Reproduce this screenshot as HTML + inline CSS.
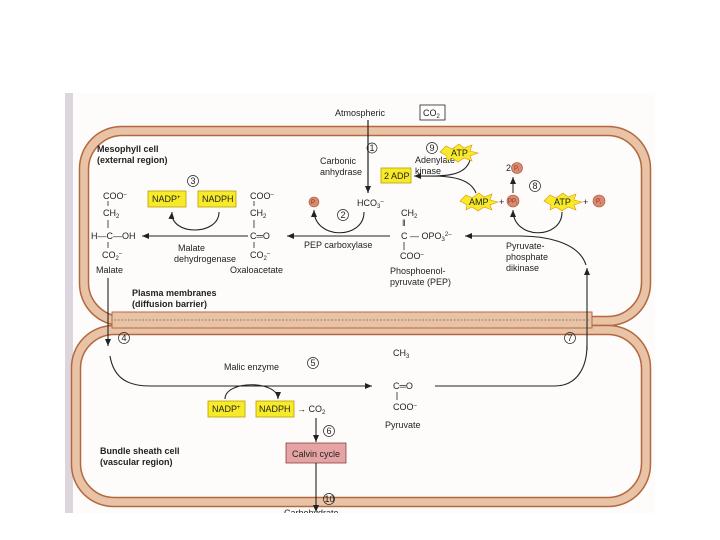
<!DOCTYPE html>
<html><head><meta charset="utf-8"><style>
body{margin:0;background:#fff}
svg{display:block}
text{font-family:"Liberation Sans",sans-serif;font-size:9px;fill:#222}
.b{font-weight:bold}
.p{font-size:6px;fill:#8a3020}
</style></head><body>
<svg width="720" height="540" viewBox="0 0 720 540" xmlns="http://www.w3.org/2000/svg">
<defs>
<marker id="a" markerWidth="8" markerHeight="8" refX="7" refY="4" orient="auto" markerUnits="userSpaceOnUse"><path d="M0,1 L7,4 L0,7 Z" fill="#222"/></marker>
</defs>
<rect x="65" y="93" width="590" height="420" fill="#fdfcfb"/>
<rect x="65" y="93" width="8" height="420" fill="#ddd5dd"/>
<rect x="84" y="131" width="562" height="190" rx="38" fill="none" stroke="#e9c3a6" stroke-width="9"/>
<rect x="79.5" y="126.5" width="571" height="199" rx="42" fill="none" stroke="#b4683f" stroke-width="1.5"/>
<rect x="88.5" y="135.5" width="553" height="181" rx="34" fill="none" stroke="#b4683f" stroke-width="1.5"/>
<rect x="76" y="330" width="570" height="172" rx="38" fill="none" stroke="#e9c3a6" stroke-width="9"/>
<rect x="71.5" y="325.5" width="579" height="181" rx="42" fill="none" stroke="#b4683f" stroke-width="1.5"/>
<rect x="80.5" y="334.5" width="561" height="163" rx="34" fill="none" stroke="#b4683f" stroke-width="1.5"/>
<rect x="112" y="312" width="480" height="16" fill="#e9c3a6" stroke="#b4683f" stroke-width="1"/>
<line x1="114" y1="320" x2="590" y2="320" stroke="#9a7a6a" stroke-width="1" stroke-dasharray="2,1.5"/>

<text x="335" y="116">Atmospheric</text>
<rect x="420" y="105" width="25" height="15" fill="#fff" stroke="#222" stroke-width="0.8"/>
<text x="423" y="116">CO<tspan font-size="6" dy="2">2</tspan></text>
<line x1="368" y1="120" x2="368" y2="193" stroke="#222" stroke-width="1.2" marker-end="url(#a)"/>
<circle cx="372" cy="148" r="5" fill="none" stroke="#222" stroke-width="0.7"/><text x="369.5" y="151" font-size="7">1</text>
<text x="320" y="164">Carbonic</text><text x="320" y="175">anhydrase</text>

<text class="b" x="97" y="152">Mesophyll cell</text>
<text class="b" x="97" y="163">(external region)</text>
<circle cx="193" cy="181" r="5.5" fill="none" stroke="#222" stroke-width="0.7"/><text x="190.5" y="184" font-size="7">3</text>

<text x="103" y="199">COO<tspan font-size="6" dy="-3">–</tspan></text>
<line x1="108" y1="201" x2="108" y2="206" stroke="#222" stroke-width="0.8"/>
<text x="103" y="216">CH<tspan font-size="6" dy="2">2</tspan></text>
<line x1="108" y1="220" x2="108" y2="228" stroke="#222" stroke-width="0.8"/>
<text x="91" y="239">H—C—OH</text>
<line x1="108" y1="242" x2="108" y2="248" stroke="#222" stroke-width="0.8"/>
<text x="102" y="258">CO<tspan font-size="6" dy="2">2</tspan><tspan font-size="6" dy="-5">–</tspan></text>
<text x="96" y="273">Malate</text>

<rect x="148" y="191" width="38" height="16" fill="#f7ea28" stroke="#b8a000" stroke-width="0.8"/><text x="152" y="202">NADP<tspan font-size="6" dy="-3">+</tspan></text>
<rect x="198" y="191" width="38" height="16" fill="#f7ea28" stroke="#b8a000" stroke-width="0.8"/><text x="202" y="202">NADPH</text>
<path d="M219,212 C219,236 170,236 172,212" fill="none" stroke="#222" stroke-width="1.1" marker-end="url(#a)"/>
<line x1="248" y1="236" x2="142" y2="236" stroke="#222" stroke-width="1.1" marker-end="url(#a)"/>
<text x="178" y="251">Malate</text><text x="174" y="262">dehydrogenase</text>

<text x="250" y="199">COO<tspan font-size="6" dy="-3">–</tspan></text>
<line x1="254" y1="201" x2="254" y2="206" stroke="#222" stroke-width="0.8"/>
<text x="250" y="216">CH<tspan font-size="6" dy="2">2</tspan></text>
<line x1="254" y1="220" x2="254" y2="228" stroke="#222" stroke-width="0.8"/>
<text x="250" y="239">C═O</text>
<line x1="254" y1="242" x2="254" y2="248" stroke="#222" stroke-width="0.8"/>
<text x="250" y="258">CO<tspan font-size="6" dy="2">2</tspan><tspan font-size="6" dy="-5">–</tspan></text>
<text x="230" y="273">Oxaloacetate</text>

<line x1="390" y1="236" x2="287" y2="236" stroke="#222" stroke-width="1.1" marker-end="url(#a)"/>
<circle cx="314" cy="202" r="5" fill="#d98a6e" stroke="#a5503a" stroke-width="0.6"/><text class="p" x="311" y="204">P</text>
<path d="M364,212 C364,240 314,240 314,210" fill="none" stroke="#222" stroke-width="1.1" marker-end="url(#a)"/>
<circle cx="343" cy="215" r="5.5" fill="none" stroke="#222" stroke-width="0.7"/><text x="340.5" y="218" font-size="7">2</text>
<text x="357" y="206">HCO<tspan font-size="6" dy="2">3</tspan><tspan font-size="6" dy="-5">–</tspan></text>
<text x="304" y="248">PEP carboxylase</text>

<text x="401" y="216">CH<tspan font-size="6" dy="2">2</tspan></text>
<text x="402" y="226" font-size="8">‖</text>
<text x="401" y="239">C — OPO<tspan font-size="6" dy="2">3</tspan><tspan font-size="6" dy="-5">2–</tspan></text>
<line x1="404" y1="242" x2="404" y2="250" stroke="#222" stroke-width="0.8"/>
<text x="400" y="259">COO<tspan font-size="6" dy="-3">–</tspan></text>
<text x="390" y="274">Phosphoenol-</text><text x="390" y="285">pyruvate (PEP)</text>

<circle cx="432" cy="148" r="5.5" fill="none" stroke="#222" stroke-width="0.7"/><text x="429.5" y="151" font-size="7">9</text>
<text x="415" y="163">Adenylate</text><text x="415" y="174">kinase</text>
<rect x="381" y="168" width="30" height="15" fill="#f7ea28" stroke="#b8a000" stroke-width="0.8"/><text x="384" y="179">2 ADP</text>
<path d="M470,160 C465,178 440,176 414,176" fill="none" stroke="#222" stroke-width="1.1" marker-end="url(#a)"/>
<path d="M476,193 C470,178 450,176 430,176" fill="none" stroke="#222" stroke-width="1.1"/>
<polygon points="440,152 446,146 452,149 459,144 464,148 472,145 470,151 478,153 470,156 472,161 464,158 458,162 452,158 446,161 447,156" fill="#f7ea28" stroke="#e09010" stroke-width="0.6"/>
<text x="451" y="156">ATP</text>
<polygon points="460,201 466,195 472,198 479,193 484,197 492,194 490,200 498,202 490,205 492,210 484,207 478,211 472,207 466,210 467,205" fill="#f7ea28" stroke="#e09010" stroke-width="0.6"/>
<text x="469" y="205">AMP</text>
<polygon points="544,201 550,195 556,198 563,193 568,197 576,194 574,200 582,202 574,205 576,210 568,207 562,211 556,207 550,210 551,205" fill="#f7ea28" stroke="#e09010" stroke-width="0.6"/>
<text x="554" y="205">ATP</text>
<text x="499" y="205">+</text>
<circle cx="513" cy="201" r="6" fill="#d98a6e" stroke="#a5503a" stroke-width="0.6"/><text class="p" x="508" y="203">PP<tspan font-size="4" dy="1">i</tspan></text>
<text x="583" y="205">+</text>
<circle cx="599" cy="201" r="6" fill="#d98a6e" stroke="#a5503a" stroke-width="0.6"/><text class="p" x="596" y="203">P<tspan font-size="4" dy="1">i</tspan></text>
<text x="506" y="171">2</text><circle cx="517" cy="168" r="5.5" fill="#d98a6e" stroke="#a5503a" stroke-width="0.6"/><text class="p" x="514" y="170">P<tspan font-size="4" dy="1">i</tspan></text>
<line x1="513" y1="193" x2="513" y2="177" stroke="#222" stroke-width="1" marker-end="url(#a)"/>
<circle cx="535" cy="186" r="5.5" fill="none" stroke="#222" stroke-width="0.7"/><text x="532.5" y="189" font-size="7">8</text>
<path d="M562,212 C562,240 513,240 513,210" fill="none" stroke="#222" stroke-width="1.1" marker-end="url(#a)"/>
<path d="M586,265 C578,240 540,236 520,236" fill="none" stroke="#222" stroke-width="1.1"/>
<line x1="522" y1="236" x2="465" y2="236" stroke="#222" stroke-width="1.1" marker-end="url(#a)"/>
<text x="506" y="249">Pyruvate-</text><text x="506" y="260">phosphate</text><text x="506" y="271">dikinase</text>
<line x1="587" y1="350" x2="587" y2="268" stroke="#222" stroke-width="1.1" marker-end="url(#a)"/>

<text class="b" x="132" y="296">Plasma membranes</text><text class="b" x="132" y="307">(diffusion barrier)</text>
<line x1="108" y1="278" x2="108" y2="346" stroke="#222" stroke-width="1.1" marker-end="url(#a)"/>
<circle cx="124" cy="338" r="5.5" fill="none" stroke="#222" stroke-width="0.7"/><text x="121.5" y="341" font-size="7">4</text>
<circle cx="570" cy="338" r="5.5" fill="none" stroke="#222" stroke-width="0.7"/><text x="567.5" y="341" font-size="7">7</text>

<path d="M110,356 C114,380 130,386 150,386 L372,386" fill="none" stroke="#222" stroke-width="1.1" marker-end="url(#a)"/>
<text x="224" y="370">Malic enzyme</text>
<circle cx="313" cy="363" r="5.5" fill="none" stroke="#222" stroke-width="0.7"/><text x="310.5" y="366" font-size="7">5</text>
<path d="M435,386 L555,386 C575,386 587,370 587,345" fill="none" stroke="#222" stroke-width="1.1"/>
<text x="393" y="356">CH<tspan font-size="6" dy="2">3</tspan></text>
<text x="393" y="389">C═O</text>
<line x1="397" y1="392" x2="397" y2="400" stroke="#222" stroke-width="0.8"/>
<text x="393" y="410">COO<tspan font-size="6" dy="-3">–</tspan></text>
<text x="385" y="428">Pyruvate</text>

<rect x="208" y="401" width="37" height="16" fill="#f7ea28" stroke="#b8a000" stroke-width="0.8"/><text x="212" y="412">NADP<tspan font-size="6" dy="-3">+</tspan></text>
<rect x="256" y="401" width="38" height="16" fill="#f7ea28" stroke="#b8a000" stroke-width="0.8"/><text x="259" y="412">NADPH</text>
<text x="297" y="412">→ CO<tspan font-size="6" dy="2">2</tspan></text>
<path d="M225,399 C225,380 278,380 278,399" fill="none" stroke="#222" stroke-width="1.1" marker-end="url(#a)"/>
<line x1="316" y1="418" x2="316" y2="442" stroke="#222" stroke-width="1.1" marker-end="url(#a)"/>
<circle cx="329" cy="431" r="5.5" fill="none" stroke="#222" stroke-width="0.7"/><text x="326.5" y="434" font-size="7">6</text>
<rect x="286" y="443" width="60" height="20" fill="#e5a3a3" stroke="#8a4040" stroke-width="0.8"/><text x="292" y="457">Calvin cycle</text>
<line x1="316" y1="463" x2="316" y2="512" stroke="#222" stroke-width="1.1" marker-end="url(#a)"/>
<circle cx="329" cy="499" r="5.5" fill="none" stroke="#222" stroke-width="0.7"/><text x="324.5" y="502" font-size="7">10</text>
<text class="b" x="100" y="454">Bundle sheath cell</text><text class="b" x="100" y="465">(vascular region)</text>
<text x="284" y="516" font-size="7" fill="#888">Carbohydrate</text>
<rect x="0" y="513" width="720" height="27" fill="#fff"/>
</svg>
</body></html>
